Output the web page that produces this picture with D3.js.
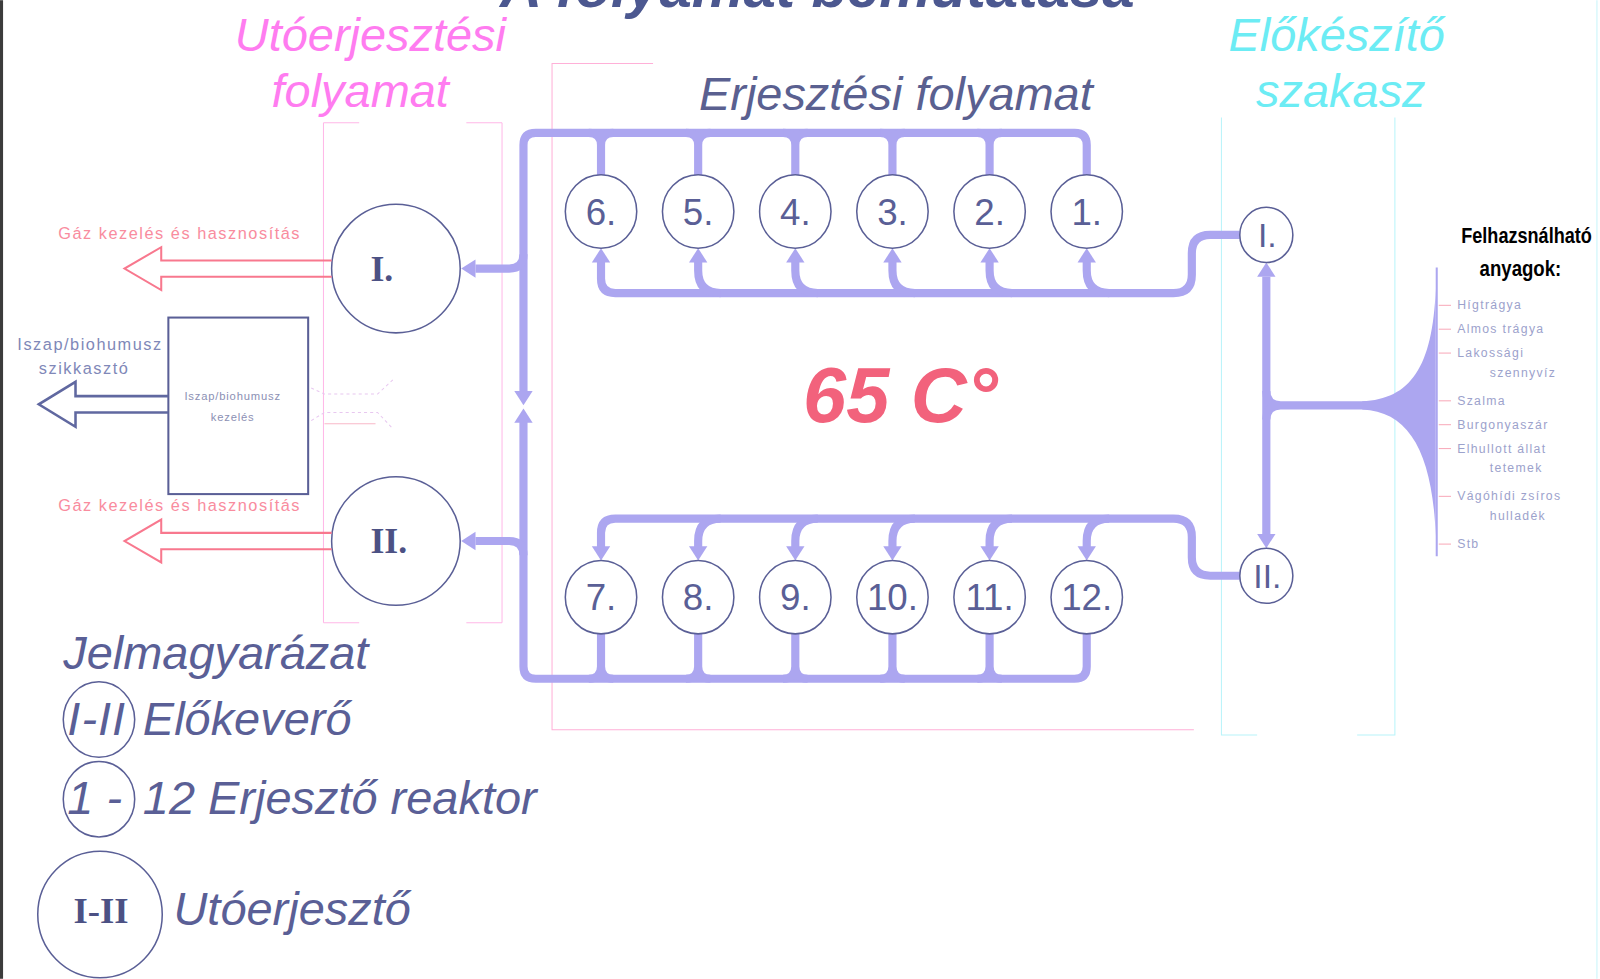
<!DOCTYPE html>
<html>
<head>
<meta charset="utf-8">
<script src="https://cdn.jsdelivr.net/npm/d3@7"></script>
<style>
  body { margin: 0; background: #fff; overflow: hidden; }
  text { font-family: "Liberation Sans", Arial, sans-serif; }
</style>
</head>
<body>
<div id="diagram"></div>
<script>
// texts and node names
var title = "A folyamat bemutatása";
var sectionPost = ["Utóerjesztési", "folyamat"];
var sectionMain = ["Erjesztési folyamat"];
var sectionPrep = ["Előkészítő", "szakasz"];
var topReactors = ["6.", "5.", "4.", "3.", "2.", "1."];
var bottomReactors = ["7.", "8.", "9.", "10.", "11.", "12."];
var premixers = ["I.", "II."];
var postFermenters = ["I.", "II."];
var gasLabel = "Gáz kezelés és hasznosítás";
var sludgeOut = ["Iszap/biohumusz", "szikkasztó"];
var sludgeBox = ["Iszap/biohumusz", "kezelés"];
var temperature = "65 C°";
var materialsTitle = ["Felhazsnálható", "anyagok:"];
var materials = [["Hígtrágya"], ["Almos trágya"], ["Lakossági", "szennyvíz"], ["Szalma"],
                 ["Burgonyaszár"], ["Elhullott állat", "tetemek"], ["Vágóhídi zsíros", "hulladék"], ["Stb"]];
var legendTitle = "Jelmagyarázat";
var legendSymbols = ["I-II", "1 -", "I-II"];
var legendTexts = ["Előkeverő", "12 Erjesztő reaktor", "Utóerjesztő"];

// colours
var pipe = "#aca6f0", ink = "#5a5f96", gas = "#f8788e", pinkSec = "#ff7cf0", cyanSec = "#6cecf4";

var svg = d3.select("#diagram").append("svg")
    .attr("width", 1600).attr("height", 979)
    .attr("viewBox", "0 0 1568 959");

svg.append("rect").attr("width", 1568).attr("height", 959).attr("fill", "#fff");

// layout scales
var xR = d3.scalePoint().domain(d3.range(topReactors.length)).range([589, 1065]);
var yRow = d3.scalePoint().domain(["top", "bottom"]).range([207, 585]);
var yPost = d3.scalePoint().domain(postFermenters).range([263, 530]);
var yPre = d3.scalePoint().domain(premixers).range([230, 564]);
var yMat = d3.scaleLinear().domain([0, 10]).range([299, 533]);
var yLegend = d3.scaleOrdinal().domain(d3.range(3)).range([705, 783, 896]);

var rR = 35, trunkX = 513, topY = 130, retY = 287, feedY = 508, botY = 665;
var preX = 1241, joinY = 397, postX = 388;

// faint section frames
var frames = svg.append("g").attr("fill", "none").attr("stroke-width", 1);
[317, 492].forEach(function(x) {
  frames.append("path").attr("stroke", "#ffb8e8")
    .attr("d", "M" + x + ",120 V610");
});
frames.append("path").attr("stroke", "#ffb8e8")
  .attr("d", "M317,120 H352 M457,120 H492 M317,610 H352 M457,610 H492");
frames.append("path").attr("stroke", "#ffb0d8")
  .attr("d", "M640,62 H541 V715 H1170");
frames.append("path").attr("stroke", "#b8f4fa")
  .attr("d", "M1197,115 V720 H1232 M1367,115 V720 H1330");
frames.append("path").attr("stroke", "#c8f4fa").attr("d", "M1565,0 V959");
svg.append("rect").attr("x", 0).attr("y", 0).attr("width", 3).attr("height", 959).attr("fill", "#3c3c3c");

// faint dashed arrows next to the sludge box
svg.append("path").attr("fill", "none").attr("stroke", "#e8c8f0").attr("stroke-dasharray", "3,3")
  .attr("d", "M385,372 L370,386 H318 L305,380 M305,412 L318,404 H370 L385,420");
svg.append("path").attr("stroke", "#f8b8c8").attr("d", "M318,415 H368");

// pipes
var pipes = svg.append("g").attr("fill", "none").attr("stroke", pipe)
    .attr("stroke-width", 8).attr("stroke-linecap", "butt");
var x0 = xR(0), x5 = xR(5), cyT = yRow("top"), cyB = yRow("bottom");

pipes.append("path").attr("d",
  "M" + trunkX + ",384 V" + (topY + 12) + " Q" + trunkX + "," + topY + " " + (trunkX + 12) + "," + topY +
  " H" + (x5 - 12) + " Q" + x5 + "," + topY + " " + x5 + "," + (topY + 12) + " V" + (cyT - rR));
pipes.append("path").attr("d",
  "M" + trunkX + ",413 V" + (botY - 12) + " Q" + trunkX + "," + botY + " " + (trunkX + 12) + "," + botY +
  " H" + (x5 - 12) + " Q" + x5 + "," + botY + " " + x5 + "," + (botY - 12) + " V" + (cyB + rR));

d3.range(5).forEach(function(i) {
  var x = xR(i);
  pipes.append("path").attr("d",
    "M" + (x - 12) + "," + topY + " Q" + x + "," + topY + " " + x + "," + (topY + 12) +
    " M" + (x + 12) + "," + topY + " Q" + x + "," + topY + " " + x + "," + (topY + 12) +
    " V" + (cyT - rR));
  pipes.append("path").attr("d",
    "M" + (x - 12) + "," + botY + " Q" + x + "," + botY + " " + x + "," + (botY - 12) +
    " M" + (x + 12) + "," + botY + " Q" + x + "," + botY + " " + x + "," + (botY - 12) +
    " V" + (cyB + rR));
});

// return line (top row) and feed line (bottom row)
pipes.append("path").attr("d",
  "M" + (preX - 26) + "," + yPre("I.") + " H1186 Q1168," + yPre("I.") + " 1168," + (yPre("I.") + 18) +
  " V" + (retY - 18) + " Q1168," + retY + " 1150," + retY + " H" + (x0 + 14) +
  " Q" + x0 + "," + retY + " " + x0 + "," + (retY - 14) + " V" + (cyT + rR + 14));
pipes.append("path").attr("d",
  "M" + (preX - 26) + "," + yPre("II.") + " H1186 Q1168," + yPre("II.") + " 1168," + (yPre("II.") - 18) +
  " V" + (feedY + 18) + " Q1168," + feedY + " 1150," + feedY + " H" + (x0 + 14) +
  " Q" + x0 + "," + feedY + " " + x0 + "," + (feedY + 14) + " V" + (cyB - rR - 14));
d3.range(1, 6).forEach(function(i) {
  var x = xR(i);
  pipes.append("path").attr("d",
    "M" + (x + 22) + "," + retY + " Q" + x + "," + retY + " " + x + "," + (retY - 22) + " V" + (cyT + rR + 14));
  pipes.append("path").attr("d",
    "M" + (x + 22) + "," + feedY + " Q" + x + "," + feedY + " " + x + "," + (feedY + 22) + " V" + (cyB - rR - 14));
});

// branches to post-fermenters
postFermenters.forEach(function(d, i) {
  var y = yPost(d), s = i === 0 ? -1 : 1;
  pipes.append("path").attr("d",
    "M" + trunkX + "," + (y + s * 14) + " Q" + trunkX + "," + y + " " + (trunkX - 14) + "," + y + " H466");
});

// premixer column and feed-in line
pipes.append("path").attr("d", "M" + preX + "," + (yPre("I.") + 41) + " V" + (yPre("II.") - 41));
pipes.append("path").attr("d",
  "M" + preX + "," + (joinY - 14) + " Q" + preX + "," + joinY + " " + (preX + 14) + "," + joinY +
  " M" + preX + "," + (joinY + 14) + " Q" + preX + "," + joinY + " " + (preX + 14) + "," + joinY +
  " H1345");

// fan of raw materials
svg.append("path").attr("fill", pipe)
  .attr("d", "M1335," + (joinY - 4) + " C1382," + (joinY - 6) + " 1404,360 1407,283 V525 C1404,445 1382," +
    (joinY + 6) + " 1335," + (joinY + 4) + " Z");
svg.append("path").attr("stroke", pipe).attr("stroke-width", 2).attr("d", "M1408,262 V545");

// arrowheads
function arrow(x, y, dir) {
  var w = 9, l = 14, p;
  if (dir === "up") p = [[x, y], [x - w, y + l], [x + w, y + l]];
  if (dir === "down") p = [[x, y], [x - w, y - l], [x + w, y - l]];
  if (dir === "left") p = [[x, y], [x + l, y - w], [x + l, y + w]];
  svg.append("path").attr("fill", pipe).attr("d", d3.line()(p) + "Z");
}
d3.range(6).forEach(function(i) {
  arrow(xR(i), cyT + rR + 1, "up");
  arrow(xR(i), cyB - rR - 1, "down");
});
arrow(trunkX, 397, "down");
arrow(trunkX, 400, "up");
postFermenters.forEach(function(d) { arrow(postX + 64, yPost(d), "left"); });
arrow(preX, yPre("I.") + 27, "up");
arrow(preX, yPre("II.") - 27, "down");

// reactors
function reactor(label, x, y) {
  svg.append("ellipse").attr("cx", x).attr("cy", y).attr("rx", rR).attr("ry", rR + 1)
    .attr("fill", "#fff").attr("stroke", ink).attr("stroke-width", 1.5);
  svg.append("text").attr("x", x).attr("y", y + 13).attr("text-anchor", "middle")
    .attr("font-size", 36).attr("fill", ink).text(label);
}
topReactors.forEach(function(d, i) { reactor(d, xR(i), cyT); });
bottomReactors.forEach(function(d, i) { reactor(d, xR(i), cyB); });

// premixers
premixers.forEach(function(d) {
  var y = yPre(d);
  svg.append("ellipse").attr("cx", preX).attr("cy", y).attr("rx", 26).attr("ry", 27)
    .attr("fill", "#fff").attr("stroke", ink).attr("stroke-width", 1.5);
  svg.append("text").attr("x", preX + 1).attr("y", y + 12).attr("text-anchor", "middle")
    .attr("font-size", 33).attr("fill", ink).text(d);
});

// post-fermenters with gas outlets
postFermenters.forEach(function(d) {
  var y = yPost(d);
  svg.append("circle").attr("cx", postX).attr("cy", y).attr("r", 63)
    .attr("fill", "#fff").attr("stroke", ink).attr("stroke-width", 1.5);
  svg.append("text").attr("x", 363).attr("y", y + 12)
    .style("font-family", "'Liberation Serif', 'Times New Roman', serif").style("font-weight", "bold")
    .attr("font-size", 35).attr("fill", "#4c5184").text(d);
  svg.append("path").attr("fill", "none").attr("stroke", gas).attr("stroke-width", 2)
    .attr("d", "M" + (postX - 63) + "," + (y - 8) + " H158 V" + (y - 21) + " L122," + y +
      " L158," + (y + 21) + " V" + (y + 8) + " H" + (postX - 63));
  svg.append("text").attr("x", 57).attr("y", y - 29).attr("font-size", 16)
    .attr("letter-spacing", 1.5).attr("fill", gas).attr("opacity", 0.85).text(gasLabel);
});

// sludge box
svg.append("rect").attr("x", 165).attr("y", 311).attr("width", 137).attr("height", 173)
  .attr("fill", "#fff").attr("stroke", ink).attr("stroke-width", 2);
sludgeBox.forEach(function(t, i) {
  svg.append("text").attr("x", 228).attr("y", 392 + i * 20).attr("text-anchor", "middle")
    .attr("font-size", 11).attr("letter-spacing", 0.8).attr("fill", "#8c90b4").text(t);
});
svg.append("path").attr("fill", "none").attr("stroke", "#6068a0").attr("stroke-width", 2.5)
  .attr("d", "M165,388 H74 V374 L38,396 L74,418 V404 H165");
sludgeOut.forEach(function(t, i) {
  svg.append("text").attr("x", i === 0 ? 17 : 38).attr("y", 343 + i * 23).attr("font-size", 16)
    .attr("letter-spacing", 1.5).attr("fill", "#8088b8").text(t);
});

// material list (heading squeezed horizontally, like a condensed face)
materialsTitle.forEach(function(t, i) {
  var g = svg.append("g");
  var tx = g.append("text").attr("x", 0).attr("y", 0)
    .style("font-weight", "bold").attr("font-size", 22).attr("fill", "#000").text(t);
  var want = i === 0 ? 128 : 80;
  var sx = want / tx.node().getComputedTextLength();
  g.attr("transform", "translate(" + (i === 0 ? 1432 : 1450) + "," + (238 + i * 32) + ") scale(" + sx + ",1)");
});
var slot = 0;
materials.forEach(function(lines) {
  var y = yMat(slot);
  svg.append("path").attr("stroke", "#f8a8b8").attr("stroke-width", 1).attr("d", "M1410," + y + " H1422");
  lines.forEach(function(t, j) {
    svg.append("text").attr("x", j === 0 ? 1428 : 1460).attr("y", y + 4 + j * 19)
      .attr("font-size", 12).attr("letter-spacing", 1.3).attr("fill", "#9ca2cc").text(t);
  });
  slot += lines.length;
});

// big labels
svg.append("text").attr("x", 801).attr("y", 7).attr("text-anchor", "middle")
  .attr("font-size", 57).attr("font-weight", "bold").attr("font-style", "italic")
  .attr("fill", "#4c5890").text(title);
svg.append("text").attr("x", 363).attr("y", 50).attr("text-anchor", "middle")
  .attr("font-size", 46).attr("font-style", "italic").attr("fill", pinkSec).text(sectionPost[0]);
svg.append("text").attr("x", 353).attr("y", 105).attr("text-anchor", "middle")
  .attr("font-size", 46).attr("font-style", "italic").attr("fill", pinkSec).text(sectionPost[1]);
svg.append("text").attr("x", 685).attr("y", 108)
  .attr("font-size", 46).attr("font-style", "italic").attr("fill", "#5a6090").text(sectionMain[0]);
svg.append("text").attr("x", 1310).attr("y", 50).attr("text-anchor", "middle")
  .attr("font-size", 46).attr("font-style", "italic").attr("fill", cyanSec).text(sectionPrep[0]);
svg.append("text").attr("x", 1314).attr("y", 105).attr("text-anchor", "middle")
  .attr("font-size", 46).attr("font-style", "italic").attr("fill", cyanSec).text(sectionPrep[1]);
svg.append("text").attr("x", 787).attr("y", 413)
  .attr("font-size", 76).attr("font-weight", "bold").attr("font-style", "italic")
  .attr("fill", "#f2627c").text(temperature);

// legend
svg.append("text").attr("x", 62).attr("y", 655).attr("font-size", 46).attr("font-style", "italic")
  .attr("fill", ink).text(legendTitle);
legendSymbols.forEach(function(s, i) {
  var y = yLegend(i), big = i === 2;
  svg.append("ellipse").attr("cx", big ? 98 : 97).attr("cy", y)
    .attr("rx", big ? 61 : 35).attr("ry", big ? 62 : 37)
    .attr("fill", "none").attr("stroke", ink).attr("stroke-width", 1.5);
  if (big) {
    svg.append("text").attr("x", 72).attr("y", y + 8)
      .style("font-family", "'Liberation Serif', 'Times New Roman', serif").style("font-weight", "bold")
      .attr("font-size", 36).attr("fill", "#4c5184").text(s);
  } else {
    svg.append("text").attr("x", 66).attr("y", y + 15).attr("font-size", 46).attr("font-style", "italic")
      .attr("letter-spacing", i === 0 ? 1 : 0).attr("fill", ink).text(s);
  }
  svg.append("text").attr("x", big ? 170 : 140).attr("y", y + (big ? 10 : 15))
    .attr("font-size", 46).attr("font-style", "italic").attr("fill", ink).text(legendTexts[i]);
});
</script>
</body>
</html>
